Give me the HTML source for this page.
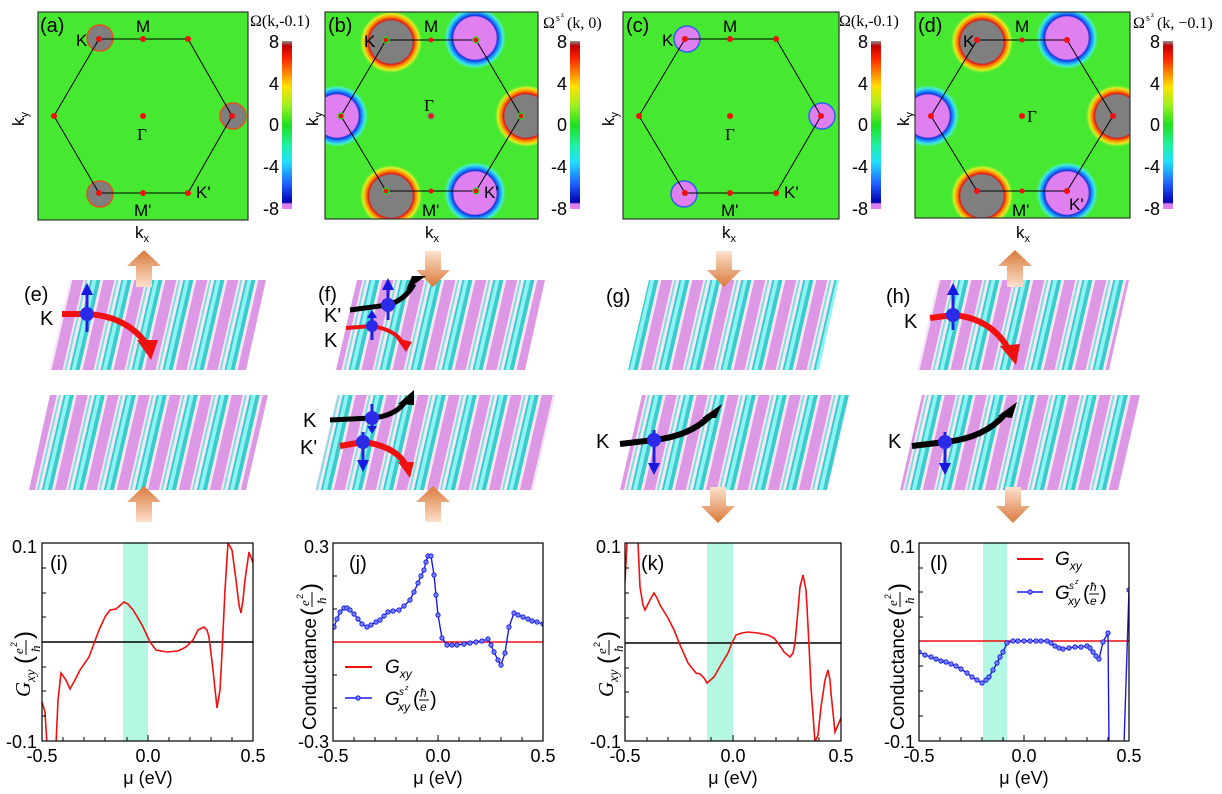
<!DOCTYPE html>
<html><head><meta charset="utf-8"><style>
html,body{margin:0;padding:0;background:#fff}
svg{display:block;font-family:"Liberation Sans",sans-serif}
</style></head><body>
<svg width="1222" height="794" viewBox="0 0 1222 794" xmlns="http://www.w3.org/2000/svg">
<defs>
<linearGradient id="cb" x1="0" y1="0" x2="0" y2="1">
<stop offset="0" stop-color="#909090"/><stop offset="0.03" stop-color="#c00000"/><stop offset="0.1" stop-color="#ff2000"/>
<stop offset="0.2" stop-color="#ff9000"/><stop offset="0.27" stop-color="#ffe000"/><stop offset="0.38" stop-color="#a0f020"/>
<stop offset="0.5" stop-color="#20e020"/><stop offset="0.62" stop-color="#20f0a0"/><stop offset="0.72" stop-color="#20e0ff"/>
<stop offset="0.85" stop-color="#2060ff"/><stop offset="0.96" stop-color="#0000b0"/><stop offset="0.97" stop-color="#e080f0"/><stop offset="1" stop-color="#e080f0"/>
</linearGradient>
<radialGradient id="gp"><stop offset="0" stop-color="#7f7f7f"/><stop offset="0.66" stop-color="#7f7f7f"/><stop offset="0.7" stop-color="#e01818"/><stop offset="0.78" stop-color="#ff8a00"/><stop offset="0.88" stop-color="#e0f020"/><stop offset="1" stop-color="#48e830" stop-opacity="0"/></radialGradient>
<radialGradient id="mp"><stop offset="0" stop-color="#e080f0"/><stop offset="0.66" stop-color="#e080f0"/><stop offset="0.7" stop-color="#1830e0"/><stop offset="0.78" stop-color="#1890f8"/><stop offset="0.88" stop-color="#40f0d8"/><stop offset="1" stop-color="#48e830" stop-opacity="0"/></radialGradient>
<pattern id="slab" width="31" height="120" patternUnits="userSpaceOnUse" patternTransform="skewX(-13)">
<rect x="0" y="0" width="31" height="120" fill="#f6e6f6"/>
<rect x="13" y="0" width="11" height="120" fill="#dc98e4"/>
<rect x="0" y="0" width="10" height="120" fill="#38cccc"/>
<rect x="2" y="0" width="4" height="120" fill="#90f2f2"/>
<rect x="26" y="0" width="2" height="120" fill="#80dede"/>
</pattern>
<marker id="dot" markerWidth="6" markerHeight="6" refX="3" refY="3" markerUnits="userSpaceOnUse"><circle cx="3" cy="3" r="2.2" fill="#7080ff" stroke="#1010e0" stroke-width="0.8"/></marker>
<clipPath id="ca"><rect x="38" y="12" width="210" height="208"/></clipPath>
<clipPath id="cbp"><rect x="325" y="12" width="213" height="207"/></clipPath>
<clipPath id="cc"><rect x="623" y="12" width="216" height="207"/></clipPath>
<clipPath id="cd"><rect x="915" y="12" width="215" height="206"/></clipPath>
<clipPath id="ci"><rect x="42" y="543" width="211" height="198"/></clipPath>
<clipPath id="cj"><rect x="333" y="543" width="210" height="198"/></clipPath>
<clipPath id="ck"><rect x="625" y="543" width="216" height="198"/></clipPath>
<clipPath id="cl"><rect x="919" y="543" width="210" height="198"/></clipPath>
<linearGradient id="oa" x1="0" y1="0" x2="0" y2="1"><stop offset="0" stop-color="#fde0cc"/><stop offset="1" stop-color="#d87a3a"/></linearGradient>
<linearGradient id="ob" x1="0" y1="1" x2="0" y2="0"><stop offset="0" stop-color="#fde0cc"/><stop offset="1" stop-color="#d87a3a"/></linearGradient>
</defs>

<!-- ===== Panel (a) ===== -->
<rect x="38" y="12" width="210" height="208" fill="#46e832"/>
<g clip-path="url(#ca)">
<circle cx="100" cy="38" r="13" fill="#7f7f7f" stroke="#e05020" stroke-width="1.5"/>
<circle cx="233" cy="116" r="13" fill="#7f7f7f" stroke="#e05020" stroke-width="1.5"/>
<circle cx="100" cy="194" r="13" fill="#7f7f7f" stroke="#e05020" stroke-width="1.5"/>
</g>
<rect x="38" y="12" width="210" height="208" fill="none" stroke="#333" stroke-width="1.2"/>
<polygon points="99,39 188,39 232,116 188,193 99,193 54,116" fill="none" stroke="#000" stroke-width="1"/>
<g fill="#f01010"><circle cx="99" cy="39" r="3"/><circle cx="143" cy="39" r="3"/><circle cx="188" cy="39" r="3"/><circle cx="232" cy="116" r="3"/><circle cx="188" cy="193" r="3"/><circle cx="143" cy="193" r="3"/><circle cx="99" cy="193" r="3"/><circle cx="54" cy="116" r="3"/><circle cx="143" cy="116" r="3"/></g>
<g font-size="17" fill="#000">
<text x="40" y="32" font-size="20">(a)</text>
<text x="76" y="46">K</text><text x="136" y="32">M</text><text x="137" y="140" font-family="Liberation Serif">Γ</text>
<text x="196" y="198">K'</text><text x="134" y="216">M'</text>
<text x="135" y="238">k<tspan font-size="11" dy="4">x</tspan></text>
<text transform="translate(24,126) rotate(-90)">k<tspan font-size="11" dy="4">y</tspan></text>
</g>
<rect x="282" y="41" width="10" height="168" fill="url(#cb)"/>
<g font-size="18" text-anchor="end"><text x="279" y="48">8</text><text x="279" y="90">4</text><text x="279" y="131">0</text><text x="279" y="173">-4</text><text x="279" y="215">-8</text></g>
<text x="250" y="26" font-size="16" font-family="Liberation Serif">Ω(k,-0.1)</text>

<!-- ===== Panel (b) ===== -->
<rect x="325" y="12" width="213" height="207" fill="#46e832"/>
<g clip-path="url(#cbp)">
<circle cx="391" cy="42" r="32" fill="url(#gp)"/>
<circle cx="475" cy="38" r="32" fill="url(#mp)"/>
<circle cx="337" cy="116" r="32" fill="url(#mp)"/>
<circle cx="526" cy="116" r="32" fill="url(#gp)"/>
<circle cx="391" cy="196" r="32" fill="url(#gp)"/>
<circle cx="475" cy="193" r="32" fill="url(#mp)"/>
</g>
<rect x="325" y="12" width="213" height="207" fill="none" stroke="#333" stroke-width="1.2"/>
<polygon points="386,40 476,40 521,116 476,191 386,191 341,116" fill="none" stroke="#000" stroke-width="1"/>
<g fill="#f01010" stroke="#20e020" stroke-width="1.2"><circle cx="386" cy="40" r="3"/><circle cx="476" cy="40" r="3"/><circle cx="521" cy="116" r="3"/><circle cx="476" cy="191" r="3"/><circle cx="386" cy="191" r="3"/><circle cx="341" cy="116" r="3"/><circle cx="431" cy="116" r="3" stroke="#808080"/></g>
<g fill="#f01010"><circle cx="431" cy="40" r="2.5"/><circle cx="431" cy="191" r="2.5"/></g>
<g font-size="17">
<text x="328" y="32" font-size="20">(b)</text>
<text x="364" y="47">K</text><text x="424" y="32">M</text><text x="424" y="111" font-family="Liberation Serif">Γ</text>
<text x="484" y="198">K'</text><text x="422" y="216">M'</text>
<text x="425" y="238">k<tspan font-size="11" dy="4">x</tspan></text>
<text transform="translate(318,126) rotate(-90)">k<tspan font-size="11" dy="4">y</tspan></text>
</g>
<rect x="570" y="41" width="10" height="168" fill="url(#cb)"/>
<g font-size="18" text-anchor="end"><text x="567" y="48">8</text><text x="567" y="90">4</text><text x="567" y="131">0</text><text x="567" y="173">-4</text><text x="567" y="215">-8</text></g>
<text x="543" y="28" font-size="16" font-family="Liberation Serif">Ω</text><text x="556" y="21" font-size="10" font-family="Liberation Serif">s</text><text x="561" y="17" font-size="7" font-family="Liberation Serif">z</text><text x="567" y="28" font-size="16" font-family="Liberation Serif">(k, 0)</text>

<!-- ===== Panel (c) ===== -->
<rect x="623" y="12" width="216" height="207" fill="#46e832"/>
<g clip-path="url(#cc)">
<circle cx="687" cy="39" r="13" fill="#e080f0" stroke="#3060f0" stroke-width="1.5"/>
<circle cx="822" cy="116" r="13" fill="#e080f0" stroke="#3060f0" stroke-width="1.5"/>
<circle cx="684" cy="194" r="13" fill="#e080f0" stroke="#3060f0" stroke-width="1.5"/>
</g>
<rect x="623" y="12" width="216" height="207" fill="none" stroke="#333" stroke-width="1.2"/>
<polygon points="685,39 776,39 821,116 776,193 685,193 639,116" fill="none" stroke="#000" stroke-width="1"/>
<g fill="#f01010"><circle cx="685" cy="39" r="3"/><circle cx="730" cy="39" r="3"/><circle cx="776" cy="39" r="3"/><circle cx="821" cy="116" r="3"/><circle cx="776" cy="193" r="3"/><circle cx="730" cy="193" r="3"/><circle cx="685" cy="193" r="3"/><circle cx="639" cy="116" r="3"/><circle cx="730" cy="116" r="3"/></g>
<g font-size="17">
<text x="626" y="32" font-size="20">(c)</text>
<text x="662" y="46">K</text><text x="723" y="32">M</text><text x="725" y="140" font-family="Liberation Serif">Γ</text>
<text x="784" y="198">K'</text><text x="721" y="216">M'</text>
<text x="722" y="238">k<tspan font-size="11" dy="4">x</tspan></text>
<text transform="translate(614,126) rotate(-90)">k<tspan font-size="11" dy="4">y</tspan></text>
</g>
<rect x="871" y="41" width="10" height="168" fill="url(#cb)"/>
<g font-size="18" text-anchor="end"><text x="868" y="48">8</text><text x="868" y="90">4</text><text x="868" y="131">0</text><text x="868" y="173">-4</text><text x="868" y="215">-8</text></g>
<text x="839" y="26" font-size="16" font-family="Liberation Serif">Ω(k,-0.1)</text>

<!-- ===== Panel (d) ===== -->
<rect x="915" y="12" width="215" height="206" fill="#46e832"/>
<g clip-path="url(#cd)">
<circle cx="982" cy="42" r="32" fill="url(#gp)"/>
<circle cx="1067" cy="38" r="32" fill="url(#mp)"/>
<circle cx="928" cy="116" r="32" fill="url(#mp)"/>
<circle cx="1117" cy="116" r="32" fill="url(#gp)"/>
<circle cx="982" cy="196" r="32" fill="url(#gp)"/>
<circle cx="1067" cy="193" r="32" fill="url(#mp)"/>
</g>
<rect x="915" y="12" width="215" height="206" fill="none" stroke="#333" stroke-width="1.2"/>
<polygon points="977,40 1067,40 1113,116 1067,191 977,191 931,116" fill="none" stroke="#000" stroke-width="1"/>
<g fill="#f01010"><circle cx="977" cy="40" r="3"/><circle cx="1067" cy="40" r="3"/><circle cx="1113" cy="116" r="3"/><circle cx="1067" cy="191" r="3"/><circle cx="977" cy="191" r="3"/><circle cx="931" cy="116" r="3"/><circle cx="1022" cy="116" r="3"/><circle cx="1022" cy="40" r="2.5"/><circle cx="1022" cy="191" r="2.5"/></g>
<g font-size="17">
<text x="918" y="32" font-size="20">(d)</text>
<text x="963" y="47">K</text><text x="1015" y="32">M</text><text x="1027" y="122" font-family="Liberation Serif">Γ</text>
<text x="1069" y="210">K'</text><text x="1012" y="216">M'</text>
<text x="1016" y="238">k<tspan font-size="11" dy="4">x</tspan></text>
<text transform="translate(909,126) rotate(-90)">k<tspan font-size="11" dy="4">y</tspan></text>
</g>
<rect x="1163" y="41" width="10" height="168" fill="url(#cb)"/>
<g font-size="18" text-anchor="end"><text x="1160" y="48">8</text><text x="1160" y="90">4</text><text x="1160" y="131">0</text><text x="1160" y="173">-4</text><text x="1160" y="215">-8</text></g>
<text x="1133" y="28" font-size="16" font-family="Liberation Serif">Ω</text><text x="1146" y="21" font-size="10" font-family="Liberation Serif">s</text><text x="1151" y="17" font-size="7" font-family="Liberation Serif">z</text><text x="1157" y="28" font-size="16" font-family="Liberation Serif">(k, −0.1)</text>

<!-- ===== Middle row slabs ===== -->
<g>
<polygon points="70,280 266,280 246,370 49,370" fill="url(#slab)"/>
<polygon points="50,395 268,395 246,490 29,490" fill="url(#slab)"/>
<polygon points="357,280 545,280 525,370 336,370" fill="url(#slab)"/>
<polygon points="337,395 555,395 533,490 315,490" fill="url(#slab)"/>
<polygon points="649,280 839,280 819,370 628,370" fill="url(#slab)"/>
<polygon points="642,395 850,395 828,490 620,490" fill="url(#slab)"/>
<polygon points="938,280 1129,280 1109,370 917,370" fill="url(#slab)"/>
<polygon points="922,395 1140,395 1118,490 900,490" fill="url(#slab)"/>
</g>
<polygon points="136,287 152,287 152,266 161,266 144,250 127,266 136,266" fill="url(#ob)"/>
<polygon points="136,522 152,522 152,502 161,502 144,486 127,502 136,502" fill="url(#ob)"/>
<polygon points="425,251 441,251 441,270 450,270 433,287 416,270 425,270" fill="url(#oa)"/>
<polygon points="425,522 441,522 441,502 450,502 433,486 416,502 425,502" fill="url(#ob)"/>
<polygon points="716,251 732,251 732,270 741,270 724,287 707,270 716,270" fill="url(#oa)"/>
<polygon points="710,487 726,487 726,506 735,506 718,523 701,506 710,506" fill="url(#oa)"/>
<polygon points="1007,287 1023,287 1023,266 1032,266 1015,250 998,266 1007,266" fill="url(#ob)"/>
<polygon points="1005,487 1021,487 1021,506 1030,506 1013,523 996,506 1005,506" fill="url(#oa)"/>
<g font-size="20">
<text x="24" y="301">(e)</text><text x="318" y="301">(f)</text><text x="606" y="303">(g)</text><text x="886" y="303">(h)</text>
<text x="40" y="325">K</text>
<text x="324" y="322">K'</text><text x="324" y="347">K</text>
<text x="303" y="427">K</text><text x="300" y="454">K'</text>
<text x="596" y="448">K</text>
<text x="888" y="448">K</text>
<text x="904" y="328">K</text>
</g>
<g fill="none">
<path d="M62,314 L87,314 Q125,316 145,342" stroke="#f01010" stroke-width="6"/>
<path d="M346,328 L372,326 Q395,330 402,342" stroke="#f01010" stroke-width="4"/>
<path d="M340,446 L363,442 Q395,446 405,464" stroke="#f01010" stroke-width="6"/>
<path d="M930,318 L953,315 Q990,318 1008,348" stroke="#f01010" stroke-width="6"/>
<path d="M350,310 L388,305 Q405,300 414,284" stroke="#000" stroke-width="5"/>
<path d="M330,420 L372,418 Q395,416 405,402" stroke="#000" stroke-width="5"/>
<path d="M620,444 L654,440 Q690,436 710,416" stroke="#000" stroke-width="6"/>
<path d="M912,446 L945,442 Q985,438 1005,414" stroke="#000" stroke-width="6"/>
</g>
<g>
<polygon points="137,340 158,340 151,360" fill="#f01010"/>
<polygon points="396,338 412,342 406,352" fill="#f01010"/>
<polygon points="398,462 414,462 410,478" fill="#f01010"/>
<polygon points="1000,346 1020,344 1016,365" fill="#f01010"/>
<polygon points="406,290 426,276 412,276" fill="#000"/>
<polygon points="398,404 414,390 414,405" fill="#000"/>
<polygon points="702,418 722,404 716,418" fill="#000"/>
<polygon points="998,416 1017,402 1012,418" fill="#000"/>
</g>
<g stroke="#2020e0" stroke-width="3">
<line x1="87" y1="332" x2="87" y2="292"/><line x1="388" y1="320" x2="388" y2="286"/><line x1="372" y1="340" x2="372" y2="316"/>
<line x1="372" y1="404" x2="372" y2="428"/><line x1="363" y1="432" x2="363" y2="462"/><line x1="654" y1="430" x2="654" y2="465"/>
<line x1="945" y1="432" x2="945" y2="465"/><line x1="953" y1="330" x2="953" y2="292"/>
</g>
<g fill="#1818e0">
<polygon points="81,295 93,295 87,283"/><polygon points="382,290 394,290 388,278"/><polygon points="367,318 377,318 372,310"/>
<polygon points="367,426 377,426 372,434"/><polygon points="357,460 369,460 363,472"/><polygon points="648,463 660,463 654,475"/>
<polygon points="939,463 951,463 945,475"/><polygon points="947,295 959,295 953,283"/>
</g>
<g fill="#2a2ae8"><circle cx="87" cy="314" r="7"/><circle cx="388" cy="305" r="7"/><circle cx="372" cy="326" r="6"/><circle cx="372" cy="418" r="7"/><circle cx="363" cy="442" r="7"/><circle cx="654" cy="440" r="7"/><circle cx="945" cy="442" r="7"/><circle cx="953" cy="315" r="7"/></g>

<!-- ===== Bottom plots ===== -->
<!-- (i) -->
<rect x="123" y="543" width="25" height="198" fill="#b4f7e2"/>
<line x1="42" y1="642" x2="253" y2="642" stroke="#000" stroke-width="1.5"/>
<polyline clip-path="url(#ci)" fill="none" stroke="#f01010" stroke-width="1.6" points="42,702 45,712 47,745 52,745 56,745 58,700 61,673 66,680 70,689 75,680 80,670 89,657 99,630 105,617 110,610 116,609 124,602 128,604 133,610 138,618 143,627 150,642 156,650 167,652 178,651 186,647 193,640 198,630 204,627 207,630 209,637 213,670 217,708 220,690 222,653 225,590 228,543 232,550 236,580 239,605 241,613 243,600 245,580 249,552 253,563"/>
<rect x="42" y="543" width="211" height="198" fill="none" stroke="#000" stroke-width="1.2"/>
<g stroke="#000" stroke-width="1">
<path d="M42,568h4M42,593h4M42,617h4M42,667h4M42,691h4M42,716h4"/>
<path d="M63,741v-4M84,741v-4M105,741v-4M127,741v-4M148,741v-6M169,741v-4M190,741v-4M211,741v-4M232,741v-4"/>
</g>
<g font-size="18"><text x="37" y="553" text-anchor="end">0.1</text><text x="37" y="748" text-anchor="end">-0.1</text>
<text x="42" y="762" text-anchor="middle">-0.5</text><text x="148" y="762" text-anchor="middle">0.0</text><text x="253" y="762" text-anchor="middle">0.5</text>
<text x="148" y="784" text-anchor="middle">μ (eV)</text><text x="50" y="570" font-size="20">(i)</text></g>
<g transform="translate(30,697) rotate(-90)">
<text x="0" y="0" font-size="21" font-family="Liberation Serif" font-style="italic">G</text><text x="15" y="5" font-size="14" font-family="Liberation Serif" font-style="italic">xy</text>
<text x="33" y="2" font-size="24">(</text><text x="43" y="-7" font-size="13" font-family="Liberation Serif" font-style="italic">e</text><text x="50" y="-13" font-size="9">2</text>
<line x1="42" y1="-4" x2="57" y2="-4" stroke="#000" stroke-width="1"/><text x="45" y="10" font-size="13" font-family="Liberation Serif" font-style="italic">ħ</text><text x="58" y="2" font-size="24">)</text></g>

<!-- (j) -->
<line x1="333" y1="642" x2="543" y2="642" stroke="#f01010" stroke-width="1.6"/>
<polyline clip-path="url(#cj)" fill="none" stroke="#1a1ae8" stroke-width="1.4" marker-start="url(#dot)" marker-mid="url(#dot)" marker-end="url(#dot)" points="334,627 337,619 340,612 344,608 347,608 350,610 354,614 358,619 362,624 367,627 371,625 376,622 380,620 384,616 388,612 393,611 399,610 404,606 410,600 414,592 418,583 421,576 424,570 426,562 428,556 431,556 434,575 436,595 438,615 442,638 447,645 452,645 457,645 464,644 470,643 476,642 482,641 488,639 491,645 494,652 498,660 501,665 505,653 509,627 514,613 518,615 523,617 528,619 532,621 537,622 543,624"/>
<rect x="333" y="543" width="210" height="198" fill="none" stroke="#000" stroke-width="1.2"/>
<g stroke="#000" stroke-width="1">
<path d="M333,576h4M333,609h4M333,675h4M333,708h4"/>
<path d="M354,741v-4M375,741v-4M396,741v-4M417,741v-4M438,741v-6M459,741v-4M480,741v-4M501,741v-4M522,741v-4"/>
</g>
<g font-size="18"><text x="329" y="553" text-anchor="end">0.3</text><text x="329" y="748" text-anchor="end">-0.3</text>
<text x="333" y="762" text-anchor="middle">-0.5</text><text x="438" y="762" text-anchor="middle">0.0</text><text x="543" y="762" text-anchor="middle">0.5</text>
<text x="438" y="784" text-anchor="middle">μ (eV)</text><text x="349" y="570" font-size="20">(j)</text></g>
<line x1="345" y1="667" x2="372" y2="667" stroke="#f01010" stroke-width="2"/>
<line x1="345" y1="698" x2="372" y2="698" stroke="#1a1ae8" stroke-width="1.4"/><circle cx="358" cy="698" r="2.2" fill="#7080ff" stroke="#1010e0" stroke-width="0.8"/>
<text x="385" y="673" font-size="19" font-style="italic">G<tspan font-size="12" dy="5">xy</tspan></text>
<g font-style="italic"><text x="385" y="705" font-size="19">G</text><text x="399" y="695" font-size="10">s</text><text x="405" y="690" font-size="7">z</text><text x="398" y="711" font-size="12">xy</text>
<text x="413" y="706" font-size="20" font-style="normal">(</text><text x="420" y="697" font-size="12">ħ</text><line x1="419" y1="700" x2="429" y2="700" stroke="#000" stroke-width="1"/><text x="420" y="711" font-size="12">e</text><text x="430" y="706" font-size="20" font-style="normal">)</text></g>
<g transform="translate(316,730) rotate(-90)">
<text x="0" y="0" font-size="19">Conductance</text>
<text x="114" y="2" font-size="24">(</text><text x="124" y="-7" font-size="13" font-family="Liberation Serif" font-style="italic">e</text><text x="131" y="-13" font-size="9">2</text>
<line x1="123" y1="-4" x2="138" y2="-4" stroke="#000" stroke-width="1"/><text x="126" y="10" font-size="13" font-family="Liberation Serif" font-style="italic">ħ</text><text x="139" y="2" font-size="24">)</text></g>

<!-- (k) -->
<rect x="707" y="543" width="26" height="198" fill="#b4f7e2"/>
<line x1="625" y1="643" x2="841" y2="643" stroke="#000" stroke-width="1.5"/>
<polyline clip-path="url(#ck)" fill="none" stroke="#f01010" stroke-width="1.6" points="625,582 627,543 628,535 637,535 638,543 640,587 643,605 645,610 650,600 654,593 657,598 660,605 668,618 674,630 680,645 688,663 696,673 700,674 704,678 707,683 714,677 722,663 728,653 732,643 736,635 742,633 748,632 758,633 768,635 774,638 778,643 784,652 790,657 793,653 795,643 798,610 800,587 803,575 806,590 807,607 809,645 811,687 815,742 818,735 821,707 825,680 828,670 830,680 831,693 835,732 838,725 841,718"/>
<rect x="625" y="543" width="216" height="198" fill="none" stroke="#000" stroke-width="1.2"/>
<g stroke="#000" stroke-width="1">
<path d="M625,568h4M625,593h4M625,618h4M625,668h4M625,692h4M625,717h4"/>
<path d="M647,741v-4M668,741v-4M690,741v-4M711,741v-4M733,741v-6M755,741v-4M776,741v-4M798,741v-4M819,741v-4"/>
</g>
<g font-size="18"><text x="621" y="553" text-anchor="end">0.1</text><text x="621" y="748" text-anchor="end">-0.1</text>
<text x="625" y="762" text-anchor="middle">-0.5</text><text x="733" y="762" text-anchor="middle">0.0</text><text x="841" y="762" text-anchor="middle">0.5</text>
<text x="733" y="784" text-anchor="middle">μ (eV)</text><text x="641" y="570" font-size="20">(k)</text></g>
<g transform="translate(613,697) rotate(-90)">
<text x="0" y="0" font-size="21" font-family="Liberation Serif" font-style="italic">G</text><text x="15" y="5" font-size="14" font-family="Liberation Serif" font-style="italic">xy</text>
<text x="33" y="2" font-size="24">(</text><text x="43" y="-7" font-size="13" font-family="Liberation Serif" font-style="italic">e</text><text x="50" y="-13" font-size="9">2</text>
<line x1="42" y1="-4" x2="57" y2="-4" stroke="#000" stroke-width="1"/><text x="45" y="10" font-size="13" font-family="Liberation Serif" font-style="italic">ħ</text><text x="58" y="2" font-size="24">)</text></g>

<!-- (l) -->
<rect x="983" y="543" width="24" height="198" fill="#b4f7e2"/>
<line x1="919" y1="641" x2="1129" y2="641" stroke="#f01010" stroke-width="1.6"/>
<polyline clip-path="url(#cl)" fill="none" stroke="#1a1ae8" stroke-width="1.4" marker-start="url(#dot)" marker-mid="url(#dot)" marker-end="url(#dot)" points="919,652 925,655 931,657 936,659 941,661 946,662 951,664 956,666 961,669 967,673 972,677 977,680 982,683 986,680 989,677 993,670 997,663 1000,657 1003,652 1007,643 1013,641 1018,641 1024,641 1030,641 1036,641 1041,641 1047,641 1051,643 1055,646 1059,648 1063,649 1069,648 1075,647 1081,647 1087,646 1090,648 1093,652 1096,656 1099,659 1103,642 1108,633 1109,745 1124,745 1129,590"/>
<rect x="919" y="543" width="210" height="198" fill="none" stroke="#000" stroke-width="1.2"/>
<g stroke="#000" stroke-width="1">
<path d="M919,568h4M919,592h4M919,617h4M919,666h4M919,691h4M919,716h4"/>
<path d="M940,741v-4M961,741v-4M982,741v-4M1003,741v-4M1024,741v-6M1045,741v-4M1066,741v-4M1087,741v-4M1108,741v-4"/>
</g>
<g font-size="18"><text x="915" y="553" text-anchor="end">0.1</text><text x="915" y="748" text-anchor="end">-0.1</text>
<text x="919" y="762" text-anchor="middle">-0.5</text><text x="1024" y="762" text-anchor="middle">0.0</text><text x="1129" y="762" text-anchor="middle">0.5</text>
<text x="1024" y="784" text-anchor="middle">μ (eV)</text><text x="930" y="570" font-size="20">(l)</text></g>
<line x1="1017" y1="559" x2="1043" y2="559" stroke="#f01010" stroke-width="2"/>
<line x1="1017" y1="592" x2="1043" y2="592" stroke="#1a1ae8" stroke-width="1.4"/><circle cx="1030" cy="592" r="2.2" fill="#7080ff" stroke="#1010e0" stroke-width="0.8"/>
<text x="1055" y="565" font-size="19" font-style="italic">G<tspan font-size="12" dy="5">xy</tspan></text>
<g font-style="italic"><text x="1055" y="599" font-size="19">G</text><text x="1069" y="589" font-size="10">s</text><text x="1075" y="584" font-size="7">z</text><text x="1068" y="605" font-size="12">xy</text>
<text x="1083" y="600" font-size="20" font-style="normal">(</text><text x="1090" y="591" font-size="12">ħ</text><line x1="1089" y1="594" x2="1099" y2="594" stroke="#000" stroke-width="1"/><text x="1090" y="605" font-size="12">e</text><text x="1100" y="600" font-size="20" font-style="normal">)</text></g>
<g transform="translate(904,730) rotate(-90)">
<text x="0" y="0" font-size="19">Conductance</text>
<text x="114" y="2" font-size="24">(</text><text x="124" y="-7" font-size="13" font-family="Liberation Serif" font-style="italic">e</text><text x="131" y="-13" font-size="9">2</text>
<line x1="123" y1="-4" x2="138" y2="-4" stroke="#000" stroke-width="1"/><text x="126" y="10" font-size="13" font-family="Liberation Serif" font-style="italic">ħ</text><text x="139" y="2" font-size="24">)</text></g>
</svg>
</body></html>
